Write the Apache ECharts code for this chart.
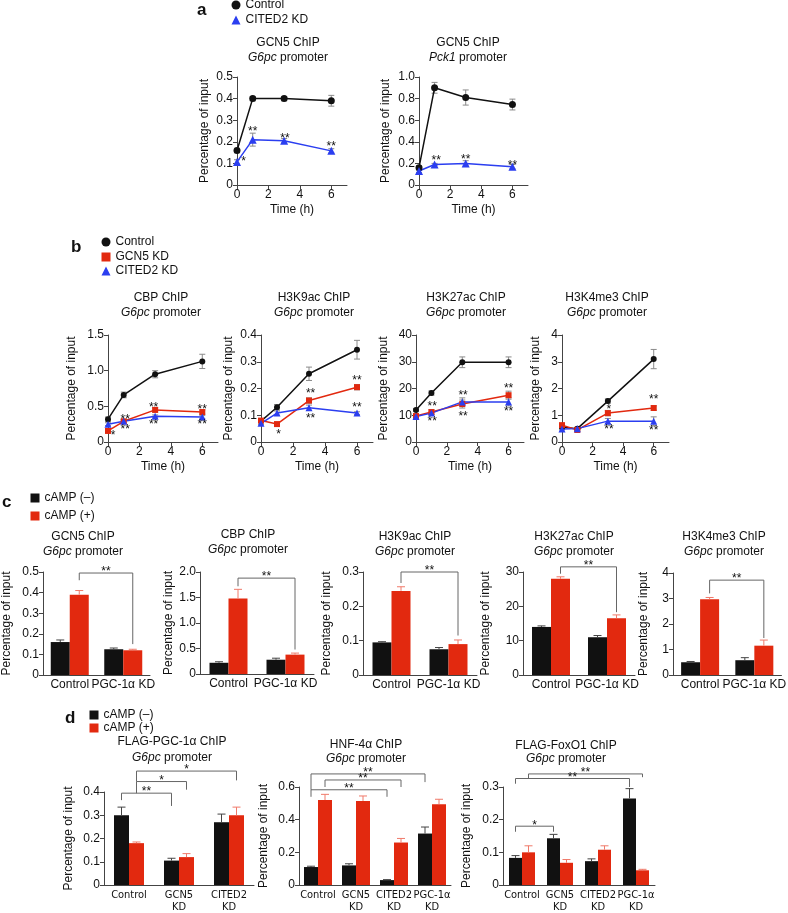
<!DOCTYPE html>
<html>
<head>
<meta charset="utf-8">
<title>ChIP panels</title>
<script src="https://cdn.jsdelivr.net/npm/echarts@6.0.0/dist/echarts.min.js"></script>
<style>
  html, body { margin: 0; padding: 0; background: #fff; }
  #chart { width: 788px; height: 913px; }
</style>
</head>
<body>
<div id="chart"></div>
<script>
// ---- time course data (panels a, b) ----
const hours = [0, 1, 3, 6]
const hourTicks = [0, 2, 4, 6]

// a: GCN5 ChIP
const aG6pcCtrl = [0.16, 0.40, 0.40, 0.39]
const aG6pcCtrlErr = [0.01, 0.01, 0.01, 0.025]
const aG6pcCited = [0.107, 0.21, 0.205, 0.158]
const aG6pcCitedErr = [0.01, 0.03, 0.01, 0.01]
const aPck1Ctrl = [0.16, 0.90, 0.81, 0.745]
const aPck1CtrlErr = [0.02, 0.05, 0.07, 0.05]
const aPck1Cited = [0.13, 0.19, 0.20, 0.17]
const aPck1CitedErr = [0.015, 0.01, 0.025, 0.02]
// significance marks: [time, value, number of stars]
const aG6pcStars = [[0.42, 0.12, 1], [1, 0.26, 2], [3.05, 0.23, 2], [6, 0.19, 2]]
const aPck1Stars = [[1.1, 0.25, 2], [3, 0.26, 2], [6, 0.21, 2]]

// b: CBP / histone marks on G6pc promoter
const bCbpCtrl = [0.32, 0.66, 0.95, 1.13]
const bCbpCtrlErr = [0.03, 0.04, 0.05, 0.1]
const bCbpGcn5 = [0.155, 0.29, 0.45, 0.42]
const bCbpGcn5Err = [0.02, 0.02, 0.03, 0.03]
const bCbpCited = [0.25, 0.29, 0.36, 0.35]
const bCbpCitedErr = [0.02, 0.02, 0.02, 0.02]
const bCbpStars = [[0.33, 0.13, 1], [1.1, 0.36, 2], [1.1, 0.21, 2], [2.9, 0.53, 2], [2.9, 0.28, 2], [6, 0.5, 2], [6, 0.28, 2]]

const bK9Ctrl = [0.078, 0.13, 0.255, 0.345]
const bK9CtrlErr = [0.005, 0.01, 0.025, 0.035]
const bK9Gcn5 = [0.08, 0.067, 0.155, 0.205]
const bK9Gcn5Err = [0.005, 0.005, 0.01, 0.01]
const bK9Cited = [0.07, 0.108, 0.128, 0.108]
const bK9CitedErr = [0.005, 0.008, 0.01, 0.005]
const bK9Stars = [[1.1, 0.04, 1], [3.1, 0.19, 2], [3.1, 0.10, 2], [6, 0.24, 2], [6, 0.138, 2]]

const bK27Ctrl = [12, 18.3, 29.8, 29.8]
const bK27CtrlErr = [0.5, 0.8, 2, 2]
const bK27Gcn5 = [9.7, 11.2, 14.2, 17.5]
const bK27Gcn5Err = [0.5, 0.8, 1.5, 1.5]
const bK27Cited = [9.5, 10.8, 15, 15]
const bK27CitedErr = [0.5, 0.5, 1.5, 1.5]
const bK27Stars = [[1.05, 14.2, 2], [1.05, 8.6, 2], [3.05, 18.3, 2], [3.05, 10.5, 2], [6, 21, 2], [6, 12.6, 2]]

const bK4Ctrl = [0.55, 0.5, 1.53, 3.1]
const bK4CtrlErr = [0.05, 0.05, 0.08, 0.36]
const bK4Gcn5 = [0.63, 0.45, 1.08, 1.27]
const bK4Gcn5Err = [0.05, 0.04, 0.1, 0.08]
const bK4Cited = [0.49, 0.5, 0.78, 0.78]
const bK4CitedErr = [0.04, 0.04, 0.1, 0.16]
const bK4Stars = [[3.07, 1.31, 1], [3.07, 0.56, 2], [6, 1.68, 2], [6, 0.52, 2]]

// ---- bar data (panels c, d) ----
const cCats = ['Control', 'PGC-1α KD']
const cGcn5Minus = [0.16, 0.125], cGcn5MinusErr = [0.01, 0.006]
const cGcn5Plus = [0.39, 0.12], cGcn5PlusErr = [0.02, 0.005]
const cCbpMinus = [0.22, 0.28], cCbpMinusErr = [0.02, 0.03]
const cCbpPlus = [1.48, 0.38], cCbpPlusErr = [0.18, 0.03]
const cK9Minus = [0.095, 0.075], cK9MinusErr = [0.002, 0.005]
const cK9Plus = [0.245, 0.09], cK9PlusErr = [0.012, 0.012]
const cK27Minus = [14, 11], cK27MinusErr = [0.3, 0.5]
const cK27Plus = [28, 16.5], cK27PlusErr = [0.6, 1]
const cK4Minus = [0.5, 0.58], cK4MinusErr = [0.03, 0.1]
const cK4Plus = [2.97, 1.15], cK4PlusErr = [0.07, 0.22]

const dCats3 = ['Control', 'GCN5\nKD', 'CITED2\nKD']
const dCats4 = ['Control', 'GCN5\nKD', 'CITED2\nKD', 'PGC-1α\nKD']
const dPgcMinus = [0.30, 0.105, 0.27], dPgcMinusErr = [0.035, 0.01, 0.035]
const dPgcPlus = [0.18, 0.12, 0.30], dPgcPlusErr = [0.005, 0.015, 0.035]
const dHnfMinus = [0.11, 0.12, 0.03, 0.315], dHnfMinusErr = [0.005, 0.01, 0.003, 0.04]
const dHnfPlus = [0.52, 0.515, 0.26, 0.495], dHnfPlusErr = [0.035, 0.03, 0.025, 0.03]
const dFoxMinus = [0.083, 0.143, 0.073, 0.265], dFoxMinusErr = [0.007, 0.012, 0.007, 0.03]
const dFoxPlus = [0.10, 0.068, 0.108, 0.045], dFoxPlusErr = [0.02, 0.01, 0.012, 0.003]

// brackets: [catA, sideA(-1 minus / 1 plus), catB, sideB, level, legA end, legB end, stars]
const cGcn5Br = [[0, 1, 1, 1, 0.495, 0.46, 0.15, 2]]
const cCbpBr = [[0, 1, 1, 1, 1.88, 1.72, 0.48, 2]]
const cK9Br = [[0, 1, 1, 1, 0.30, 0.268, 0.115, 2]]
const cK27Br = [[0, 1, 1, 1, 31.5, 29.5, 18.3, 2]]
const cK4Br = [[0, 1, 1, 1, 3.72, 3.2, 1.45, 2]]
const dPgcBr = [[0, -1, 1, -1, 0.395, 0.365, 0.34, 2], [0, 1, 1, 1, 0.445, 0.395, 0.41, 1], [0, 1, 2, 1, 0.49, 0.445, 0.45, 1]]
const dHnfBr = [[0, -1, 3, -1, 0.68, 0.583, 0.63, 2], [0, 1, 2, 1, 0.643, 0.60, 0.60, 2], [0, -1, 2, -1, 0.583, 0.54, 0.54, 2]]
const dFoxBr = [[0, 1, 3, 1, 0.34, 0.326, 0.33, 2], [0, -1, 3, -1, 0.326, 0.31, 0.30, 2], [0, -1, 1, -1, 0.18, 0.163, 0.163, 1]]

// ---- styling ----
const FONT = '"Liberation Sans", Arial, Helvetica, sans-serif'
const NARROW = '"Liberation Sans Narrow", "Arial Narrow", "DejaVu Sans Condensed", "Liberation Sans", sans-serif'
const INK = '#111'
const AX = '#444'
const BLACK = '#111'
const RED = '#e2290f'
const BLUE = '#2b3ef0'

const grids = [], xAxes = [], yAxes = [], series = [], graphics = [], legends = []

function yAxis(i, max, step, dec, gap) {
  return {
    type: 'value', gridIndex: i, min: 0, max: max, interval: step,
    name: 'Percentage of input', nameLocation: 'middle', nameGap: gap,
    nameTextStyle: { fontFamily: FONT, fontSize: 12, color: INK },
    axisLine: { show: true, lineStyle: { color: AX } },
    axisTick: { show: true, length: 4, lineStyle: { color: AX } },
    splitLine: { show: false },
    axisLabel: { fontFamily: FONT, fontSize: 12, color: INK, margin: 4,
      formatter: v => v === 0 ? '0' : v.toFixed(dec) }
  }
}

function starMark(n) { return n === 1 ? '*' : '**' }

// glyph of '*' sits high in its box, so shift it down a bit
function renderStars(params, api) {
  const p = api.coord([api.value(0), api.value(1)])
  return { type: 'text', x: p[0], y: p[1] + 3,
    style: { text: starMark(api.value(2)), fontFamily: FONT, fontSize: 12, fill: INK, align: 'center', verticalAlign: 'middle' } }
}

function lineErr(color) {
  return function (params, api) {
    const x = api.value(0), y = api.value(1), e = api.value(2)
    const hi = api.coord([x, y + e]), lo = api.coord([x, y - e])
    const st = { stroke: color, lineWidth: 1 }
    return { type: 'group', children: [
      { type: 'line', shape: { x1: hi[0], y1: hi[1], x2: lo[0], y2: lo[1] }, style: st },
      { type: 'line', shape: { x1: hi[0] - 3, y1: hi[1], x2: hi[0] + 3, y2: hi[1] }, style: st },
      { type: 'line', shape: { x1: lo[0] - 3, y1: lo[1], x2: lo[0] + 3, y2: lo[1] }, style: st }
    ] }
  }
}

function addTitle(cx, y1, y2, title, gene) {
  graphics.push({ type: 'text', x: cx, y: y1,
    style: { text: title, fontFamily: FONT, fontSize: 12, fill: INK, align: 'center', verticalAlign: 'middle' } })
  graphics.push({ type: 'text', x: cx, y: y2,
    style: { text: '{i|' + gene + '} promoter', fontFamily: FONT, fontSize: 12, fill: INK, align: 'center', verticalAlign: 'middle',
      rich: { i: { fontFamily: FONT, fontSize: 12, fontStyle: 'italic', fill: INK } } } })
}

function addLinePanel(o) {
  const i = grids.length
  grids.push({ left: o.box[0], top: o.box[1], width: o.box[2], height: o.box[3] })
  xAxes.push({
    type: 'value', gridIndex: i, min: 0, max: 7,
    name: 'Time (h)', nameLocation: 'middle', nameGap: 19,
    nameTextStyle: { fontFamily: FONT, fontSize: 12, color: INK },
    axisLine: { lineStyle: { color: AX } },
    axisTick: { customValues: hourTicks, length: 4, lineStyle: { color: AX } },
    axisLabel: { customValues: hourTicks, fontFamily: FONT, fontSize: 12, color: INK, margin: 4 },
    splitLine: { show: false }
  })
  yAxes.push(yAxis(i, o.max, o.step, o.dec, o.gap))
  o.lines.forEach(l => {
    series.push({ type: 'custom', xAxisIndex: i, yAxisIndex: i, z: 2, silent: true,
      data: hours.map((t, k) => [t, l.v[k], l.e[k]]), renderItem: lineErr('#8a8a8a') })
  })
  o.lines.forEach(l => {
    series.push({ type: 'line', name: l.name, xAxisIndex: i, yAxisIndex: i, z: 3,
      data: hours.map((t, k) => [t, l.v[k]]), symbol: l.symbol, symbolSize: l.size,
      itemStyle: { color: l.color }, lineStyle: { color: l.color, width: 1.5 } })
  })
  series.push({ type: 'custom', xAxisIndex: i, yAxisIndex: i, z: 4, silent: true, data: o.stars, renderItem: renderStars })
  addTitle(o.tx, o.ty, o.ty + 15, o.title, o.gene)
}

function barErr(side, barW, color) {
  return function (params, api) {
    const c = api.coord([api.value(0), api.value(1)])
    const t = api.coord([api.value(0), api.value(1) + api.value(2)])
    const x = c[0] + side * barW / 2
    const st = { stroke: color, lineWidth: 1 }
    return { type: 'group', children: [
      { type: 'line', shape: { x1: x, y1: c[1], x2: x, y2: t[1] }, style: st },
      { type: 'line', shape: { x1: x - 4, y1: t[1], x2: x + 4, y2: t[1] }, style: st }
    ] }
  }
}

function bracket(barW) {
  return function (params, api) {
    const ca = api.value(0), sa = api.value(1), cb = api.value(2), sb = api.value(3)
    const pA = api.coord([ca, api.value(4)]), pB = api.coord([cb, api.value(4)])
    const xa = pA[0] + sa * barW / 2, xb = pB[0] + sb * barW / 2
    const ya = api.coord([ca, api.value(5)])[1], yb = api.coord([cb, api.value(6)])[1]
    const y = pA[1]
    return { type: 'group', children: [
      { type: 'polyline', shape: { points: [[xa, ya], [xa, y], [xb, y], [xb, yb]] },
        style: { stroke: '#666', fill: null, lineWidth: 1 } },
      { type: 'text', x: (xa + xb) / 2, y: y - 4 + 3,
        style: { text: starMark(api.value(7)), fontFamily: FONT, fontSize: 12, fill: INK, align: 'center', verticalAlign: 'middle' } }
    ] }
  }
}

function addBarPanel(o) {
  const i = grids.length
  grids.push({ left: o.box[0], top: o.box[1], width: o.box[2], height: o.box[3] })
  xAxes.push({
    type: 'category', gridIndex: i, data: o.cats,
    axisLine: { lineStyle: { color: AX } }, axisTick: { show: false },
    axisLabel: { interval: 0, fontFamily: o.catFont || FONT, fontSize: o.catSize || 12, color: INK, margin: 4, lineHeight: 12 }
  })
  yAxes.push(yAxis(i, o.max, o.step, o.dec, o.gap))
  series.push({ type: 'bar', name: 'cAMP (–)', xAxisIndex: i, yAxisIndex: i, data: o.minus,
    barWidth: o.barW, barGap: '0%', itemStyle: { color: BLACK }, z: 2 })
  series.push({ type: 'bar', name: 'cAMP (+)', xAxisIndex: i, yAxisIndex: i, data: o.plus,
    barWidth: o.barW, barGap: '0%', itemStyle: { color: RED }, z: 2 })
  series.push({ type: 'custom', xAxisIndex: i, yAxisIndex: i, z: 3, silent: true,
    data: o.minus.map((v, k) => [k, v, o.minusErr[k]]), renderItem: barErr(-1, o.barW, '#444') })
  series.push({ type: 'custom', xAxisIndex: i, yAxisIndex: i, z: 3, silent: true,
    data: o.plus.map((v, k) => [k, v, o.plusErr[k]]), renderItem: barErr(1, o.barW, '#f07a6a') })
  series.push({ type: 'custom', xAxisIndex: i, yAxisIndex: i, z: 4, silent: true,
    data: o.brackets, renderItem: bracket(o.barW) })
  addTitle(o.tx, o.ty, o.ty2, o.title, o.gene)
}

function legendItem(name, icon, cx, cy) {
  legends.push({ left: cx - 4.5, top: cy - 7, orient: 'vertical', selectedMode: false,
    itemWidth: 9, itemHeight: 9, itemGap: 0, padding: 0,
    textStyle: { fontFamily: FONT, fontSize: 12, color: INK },
    data: [{ name: name, icon: icon }] })
}

function panelLetter(ch, x, y) {
  graphics.push({ type: 'text', x: x, y: y,
    style: { text: ch, fontFamily: FONT, fontSize: 17, fontWeight: 'bold', fill: INK, align: 'left', verticalAlign: 'middle' } })
}

const ctrl = (v, e, size) => ({ name: 'Control', v, e, color: BLACK, symbol: 'circle', size })
const gcn5 = (v, e, size) => ({ name: 'GCN5 KD', v, e, color: RED, symbol: 'rect', size })
const cited = (v, e, size) => ({ name: 'CITED2 KD', v, e, color: BLUE, symbol: 'triangle', size })

// ---- panel a ----
panelLetter('a', 197, 10)
legendItem('Control', 'circle', 236, 6)
legendItem('CITED2 KD', 'triangle', 236, 21)
addLinePanel({ box: [237, 77, 110, 108], max: 0.5, step: 0.1, dec: 1, gap: 26,
  lines: [ctrl(aG6pcCtrl, aG6pcCtrlErr, 7), cited(aG6pcCited, aG6pcCitedErr, 8)], stars: aG6pcStars,
  tx: 288, ty: 43, title: 'GCN5 ChIP', gene: 'G6pc' })
addLinePanel({ box: [419, 77, 109, 108], max: 1.0, step: 0.2, dec: 1, gap: 27,
  lines: [ctrl(aPck1Ctrl, aPck1CtrlErr, 7), cited(aPck1Cited, aPck1CitedErr, 8)], stars: aPck1Stars,
  tx: 468, ty: 43, title: 'GCN5 ChIP', gene: 'Pck1' })

// ---- panel b ----
panelLetter('b', 71, 247)
legendItem('Control', 'circle', 106, 243)
legendItem('GCN5 KD', 'rect', 106, 258)
legendItem('CITED2 KD', 'triangle', 106, 272)
addLinePanel({ box: [108, 335, 110, 107], max: 1.5, step: 0.5, dec: 1, gap: 30,
  lines: [ctrl(bCbpCtrl, bCbpCtrlErr, 6), gcn5(bCbpGcn5, bCbpGcn5Err, 6), cited(bCbpCited, bCbpCitedErr, 7)], stars: bCbpStars,
  tx: 161, ty: 298, title: 'CBP ChIP', gene: 'G6pc' })
addLinePanel({ box: [261, 335, 112, 107], max: 0.4, step: 0.1, dec: 1, gap: 26,
  lines: [ctrl(bK9Ctrl, bK9CtrlErr, 6), gcn5(bK9Gcn5, bK9Gcn5Err, 6), cited(bK9Cited, bK9CitedErr, 7)], stars: bK9Stars,
  tx: 314, ty: 298, title: 'H3K9ac ChIP', gene: 'G6pc' })
addLinePanel({ box: [416, 335, 108, 107], max: 40, step: 10, dec: 0, gap: 26,
  lines: [ctrl(bK27Ctrl, bK27CtrlErr, 6), gcn5(bK27Gcn5, bK27Gcn5Err, 6), cited(bK27Cited, bK27CitedErr, 7)], stars: bK27Stars,
  tx: 466, ty: 298, title: 'H3K27ac ChIP', gene: 'G6pc' })
addLinePanel({ box: [562, 335, 107, 107], max: 4, step: 1, dec: 0, gap: 20,
  lines: [ctrl(bK4Ctrl, bK4CtrlErr, 6), gcn5(bK4Gcn5, bK4Gcn5Err, 6), cited(bK4Cited, bK4CitedErr, 7)], stars: bK4Stars,
  tx: 607, ty: 298, title: 'H3K4me3 ChIP', gene: 'G6pc' })

// ---- panel c ----
panelLetter('c', 2, 502)
legendItem('cAMP (–)', 'rect', 35, 499)
legendItem('cAMP (+)', 'rect', 35, 517)
addBarPanel({ box: [40, 572, 110, 103], cats: cCats, barW: 19, max: 0.5, step: 0.1, dec: 1, gap: 30,
  minus: cGcn5Minus, minusErr: cGcn5MinusErr, plus: cGcn5Plus, plusErr: cGcn5PlusErr, brackets: cGcn5Br,
  tx: 83, ty: 537, ty2: 552, title: 'GCN5 ChIP', gene: 'G6pc' })
addBarPanel({ box: [200, 572, 114, 102], cats: cCats, barW: 19, max: 2.0, step: 0.5, dec: 1, gap: 25,
  minus: cCbpMinus, minusErr: cCbpMinusErr, plus: cCbpPlus, plusErr: cCbpPlusErr, brackets: cCbpBr,
  tx: 248, ty: 535, ty2: 550, title: 'CBP ChIP', gene: 'G6pc' })
addBarPanel({ box: [363, 572, 114, 103], cats: cCats, barW: 19, max: 0.3, step: 0.1, dec: 1, gap: 30,
  minus: cK9Minus, minusErr: cK9MinusErr, plus: cK9Plus, plusErr: cK9PlusErr, brackets: cK9Br,
  tx: 415, ty: 537, ty2: 552, title: 'H3K9ac ChIP', gene: 'G6pc' })
addBarPanel({ box: [523, 572, 112, 103], cats: cCats, barW: 19, max: 30, step: 10, dec: 0, gap: 31,
  minus: cK27Minus, minusErr: cK27MinusErr, plus: cK27Plus, plusErr: cK27PlusErr, brackets: cK27Br,
  tx: 574, ty: 537, ty2: 552, title: 'H3K27ac ChIP', gene: 'G6pc' })
addBarPanel({ box: [673, 573, 113, 102], cats: cCats, barW: 19, max: 4, step: 1, dec: 0, gap: 23,
  minus: cK4Minus, minusErr: cK4MinusErr, plus: cK4Plus, plusErr: cK4PlusErr, brackets: cK4Br,
  tx: 724, ty: 537, ty2: 552, title: 'H3K4me3 ChIP', gene: 'G6pc' })

// ---- panel d ----
panelLetter('d', 65, 718)
legendItem('cAMP (–)', 'rect', 94, 716)
legendItem('cAMP (+)', 'rect', 94, 729)
addBarPanel({ box: [104, 792, 150, 96], cats: dCats3, barW: 15, max: 0.4, step: 0.1, dec: 1, gap: 29,
  catFont: NARROW, catSize: 11,
  minus: dPgcMinus, minusErr: dPgcMinusErr, plus: dPgcPlus, plusErr: dPgcPlusErr, brackets: dPgcBr,
  tx: 172, ty: 742, ty2: 758, title: 'FLAG-PGC-1α ChIP', gene: 'G6pc' })
addBarPanel({ box: [299, 787, 152, 101], cats: dCats4, barW: 14, max: 0.6, step: 0.2, dec: 1, gap: 29,
  catFont: NARROW, catSize: 11,
  minus: dHnfMinus, minusErr: dHnfMinusErr, plus: dHnfPlus, plusErr: dHnfPlusErr, brackets: dHnfBr,
  tx: 366, ty: 745, ty2: 759, title: 'HNF-4α ChIP', gene: 'G6pc' })
addBarPanel({ box: [503, 787, 152, 101], cats: dCats4, barW: 13, max: 0.3, step: 0.1, dec: 1, gap: 30,
  catFont: NARROW, catSize: 11,
  minus: dFoxMinus, minusErr: dFoxMinusErr, plus: dFoxPlus, plusErr: dFoxPlusErr, brackets: dFoxBr,
  tx: 566, ty: 746, ty2: 759, title: 'FLAG-FoxO1 ChIP', gene: 'G6pc' })

const chart = echarts.init(document.getElementById('chart'))
chart.setOption({
  animation: false,
  backgroundColor: '#fff',
  grid: grids,
  xAxis: xAxes,
  yAxis: yAxes,
  legend: legends,
  series: series,
  graphic: graphics
})
</script>
</body>
</html>
